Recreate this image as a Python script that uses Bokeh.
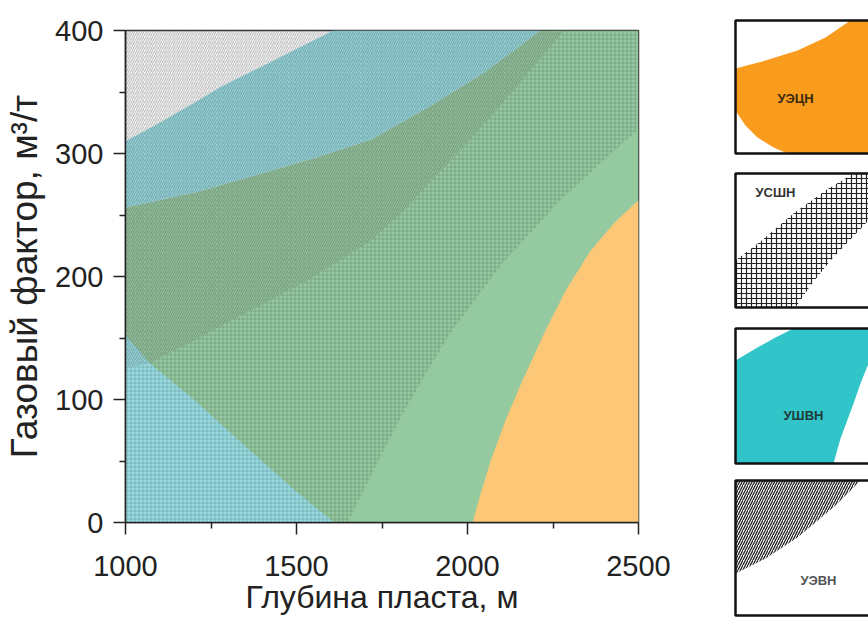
from bokeh.plotting import figure
from bokeh.layouts import row
from bokeh.models import Range1d, FixedTicker
from bokeh.core.properties import value
from bokeh.embed import file_html
from bokeh.resources import INLINE

FONT = "Liberation Sans"

# ---------------- axes ----------------
X_MIN, X_MAX = 1000, 2500
Y_MIN, Y_MAX = 0, 400
x_ticks = [1000, 1500, 2000, 2500]
x_minor = [1250, 1750, 2250]
y_ticks = [0, 100, 200, 300, 400]
y_minor = [50, 150, 250, 350]
x_label = "Глубина пласта, м"
y_label = "Газовый фактор, м³/т"

# ---------------- region boundaries (depth m, gas factor m3/t) ----------------
# upper edge of the upper УШВН (cyan) band
ushvn_top_x = [1000, 1100, 1200, 1278, 1400, 1500, 1608]
ushvn_top_y = [310, 325, 341, 354, 371, 385, 400]
# lower edge of the upper УШВН band (border with green)
ushvn_bot_x = [1000, 1200, 1400, 1560, 1716, 1900, 2050, 2213]
ushvn_bot_y = [256, 268, 284, 297, 311, 340, 366, 400]
# edge of the lower-left УШВН (cyan) area
ushvn_low_x = [1000, 1073, 1200, 1350, 1500, 1610]
ushvn_low_y = [152, 129, 100, 62, 25, 0]
# edge of the УЭЦН (orange) area
uecn_x = [2015, 2040, 2070, 2111, 2160, 2228, 2290, 2360, 2430, 2500]
uecn_y = [0, 25, 52, 83, 115, 156, 190, 221, 244, 262]
# lower edge of the УЭВН (diagonal hatch) area
uevn_x = [1000, 1073, 1200, 1300, 1420, 1532, 1620, 1716, 1820, 1921, 2010, 2100, 2190, 2281]
uevn_y = [125, 130, 148, 163, 180, 197, 212, 229, 255, 286, 312, 340, 370, 400]
# right edge of the УСШН (cross hatch) area
ussn_x = [1650, 1730, 1804, 1880, 1950, 2100, 2272, 2400, 2500]
ussn_y = [0, 45, 85, 122, 154, 210, 262, 295, 320]

C_GREEN = "#95c9a0"
C_CYAN = "#97dce2"
C_ORANGE = "#fcc878"

p = figure(width=708, height=617, x_range=Range1d(X_MIN, X_MAX), y_range=Range1d(Y_MIN, Y_MAX),
           output_backend="svg", toolbar_location=None,
           min_border_left=125, min_border_right=70, min_border_top=30, min_border_bottom=95)
p.grid.visible = False
p.outline_line_color = "#333333"
p.outline_line_width = 1.5
p.background_fill_color = "white"
p.frame_align = False

# green base
gx = ushvn_bot_x + [X_MAX, X_MAX, X_MIN]
gy = ushvn_bot_y + [Y_MAX, Y_MIN, Y_MIN]
p.patch(gx, gy, fill_color=C_GREEN, line_color=None)
# upper cyan band
p.patch(ushvn_top_x + ushvn_bot_x[::-1], ushvn_top_y + ushvn_bot_y[::-1],
        fill_color=C_CYAN, line_color=None)
# lower cyan
p.patch(ushvn_low_x + [X_MIN], ushvn_low_y + [Y_MIN], fill_color=C_CYAN, line_color=None)
# orange
p.patch(uecn_x + [X_MAX], uecn_y + [Y_MIN], fill_color=C_ORANGE, line_color=None)
# cross hatch УСШН
cx = [X_MIN] + ussn_x + [X_MAX] + uevn_x[::-1]
cy = [Y_MIN] + ussn_y + [Y_MAX] + uevn_y[::-1]
p.patch(cx, cy, fill_alpha=0, line_color=None, hatch_pattern="+", hatch_scale=4,
        hatch_weight=1, hatch_color="#2d3a30", hatch_alpha=0.22)
# diagonal hatch УЭВН
p.patch(uevn_x + [X_MIN], uevn_y + [Y_MAX], fill_alpha=0, line_color=None,
        hatch_pattern="/", hatch_scale=4.5, hatch_weight=1, hatch_color="#3a3a3a", hatch_alpha=0.4)

for ax in (p.xaxis[0], p.yaxis[0]):
    ax.axis_line_color = "#222222"
    ax.axis_line_width = 1.5
    ax.major_tick_line_color = "#222222"
    ax.major_tick_line_width = 1.5
    ax.minor_tick_line_color = "#222222"
    ax.minor_tick_line_width = 1.5
    ax.major_tick_in = 0
    ax.major_tick_out = 12
    ax.minor_tick_in = 0
    ax.minor_tick_out = 6
    ax.major_label_text_font = FONT
    ax.major_label_text_font_size = "29px"
    ax.major_label_text_color = "#222222"
    ax.axis_label_text_font = FONT
    ax.axis_label_text_font_style = "normal"
    ax.axis_label_text_color = "#222222"

p.xaxis.axis_label_text_font_size = "32px"
p.yaxis.axis_label_text_font_size = "37px"
p.xaxis.ticker = FixedTicker(ticks=x_ticks, minor_ticks=x_minor)
p.yaxis.ticker = FixedTicker(ticks=y_ticks, minor_ticks=y_minor)
p.xaxis.axis_label = x_label
p.yaxis.axis_label = y_label
p.xaxis.major_label_standoff = 21
p.xaxis.axis_label_standoff = 0
p.yaxis.major_label_standoff = 10
p.yaxis.axis_label_standoff = 7

# ---------------- legend panels (pixel coords inside panel, y downward) ----------------
leg_names = ["УЭЦН", "УСШН", "УШВН", "УЭВН"]
box_left = 27
box_right = 175
box_tops = [20, 173, 328, 480]
box_bottoms = [153, 307, 463, 615]
label_rel_x = [60, 40, 68, 83]
label_rel_y = [78, 19, 87, 100]
label_colors = ["#3a2a10", "#333333", "#1f3a3a", "#555555"]

leg1_x = [0, 30, 62, 90, 115, 150, 150, 52, 38, 22, 10, 0]
leg1_y = [48, 40, 30, 17, 0, 0, 133, 133, 127, 117, 105, 90]
leg2_x = [0, 25, 58, 90, 118, 150, 150, 133, 95, 75, 60, 0]
leg2_y = [87, 68, 40, 17, 0, 0, 38, 47, 87, 112, 134, 134]
leg3_x = [0, 22, 40, 58, 150, 150, 133, 125, 118, 105, 98, 0]
leg3_y = [32, 19, 9, 0, 0, 22, 35, 55, 75, 110, 135, 135]
leg4_x = [0, 125, 100, 62, 30, 0]
leg4_y = [0, 0, 25, 57, 78, 93]

lg = figure(width=160, height=617, x_range=Range1d(0, 160), y_range=Range1d(617, 0),
            output_backend="svg", toolbar_location=None, min_border=0)
lg.axis.visible = False
lg.grid.visible = False
lg.outline_line_color = None
lg.frame_align = False

def sx(xs):
    return [box_left + v for v in xs]

def sy(ys, i):
    return [box_tops[i] + v for v in ys]

lg.patch(sx(leg1_x), sy(leg1_y, 0), fill_color="#f99b1c", line_color=None)
lg.patch(sx(leg2_x), sy(leg2_y, 1), fill_alpha=0, line_color=None, hatch_pattern="+",
         hatch_scale=5, hatch_weight=1.2, hatch_color="#222222")
lg.patch(sx(leg3_x), sy(leg3_y, 2), fill_color="#31c4c8", line_color=None)
lg.patch(sx(leg4_x), sy(leg4_y, 3), fill_alpha=0, line_color=None, hatch_pattern="/",
         hatch_scale=5, hatch_weight=1.3, hatch_color="#222222")

for i in range(4):
    lg.quad(left=box_left, right=box_right, top=box_tops[i], bottom=box_bottoms[i],
            fill_alpha=0, line_color="#111111", line_width=2.5)

lg.text(x=[box_left + v for v in label_rel_x],
        y=[box_tops[i] + label_rel_y[i] for i in range(4)],
        text=leg_names, text_align="center", text_baseline="middle",
        text_font=value(FONT), text_font_size="13px", text_font_style="bold",
        text_color=label_colors)

layout = row(p, lg)
open("out.html", "w").write(file_html(layout, INLINE))
